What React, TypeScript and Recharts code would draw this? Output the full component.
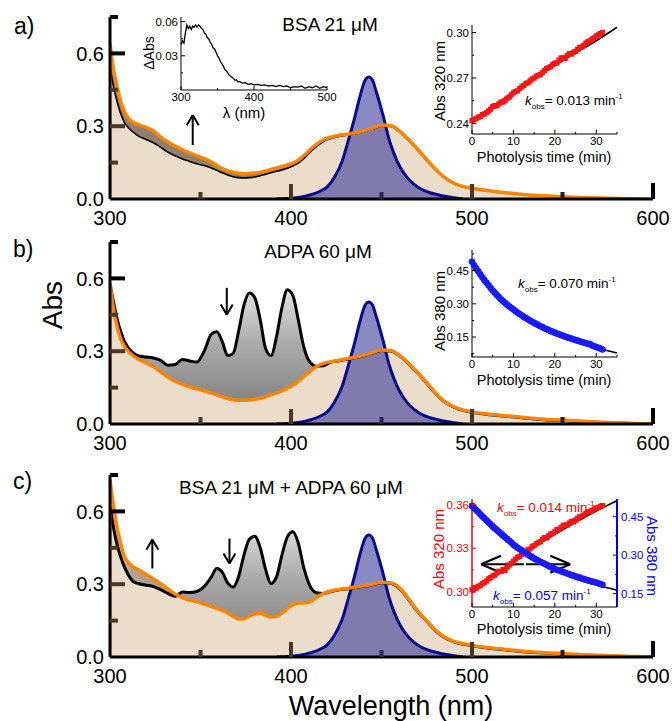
import React from 'react';
import { ComposedChart, Area, Line, Scatter, XAxis, YAxis, ReferenceLine } from 'recharts';

const FONT = '"Liberation Sans", Arial, Helvetica, sans-serif';

// ---------------- main spectra ----------------
const wavelengths = [300,302,304,306,308,310,313,316,320,324,328,332,336,340,344,348,352,356,359,362,365,368,371,374,377,380,383,386,389,392,395,398,401,404,407,410,414,418,422,426,430,435,440,445,450,455,460,465,470,475,480,485,490,495,500,510,520,530,540,550,560,570,580,590,600];

const bsaFinal = [0.64,0.53,0.46,0.40,0.36,0.335,0.315,0.305,0.295,0.28,0.255,0.235,0.218,0.203,0.19,0.178,0.167,0.152,0.138,0.125,0.116,0.11,0.106,0.104,0.105,0.107,0.11,0.116,0.122,0.128,0.134,0.14,0.148,0.16,0.178,0.2,0.225,0.245,0.255,0.262,0.266,0.272,0.28,0.292,0.305,0.303,0.28,0.245,0.205,0.162,0.122,0.088,0.065,0.052,0.044,0.033,0.025,0.018,0.013,0.009,0.006,0.004,0.002,0.001,0.0];
const bsaInitial = [0.545,0.46,0.40,0.35,0.315,0.295,0.275,0.258,0.245,0.232,0.213,0.193,0.178,0.165,0.155,0.145,0.138,0.128,0.118,0.108,0.099,0.092,0.088,0.087,0.088,0.091,0.096,0.102,0.108,0.114,0.12,0.127,0.136,0.148,0.166,0.19,0.216,0.238,0.249,0.257,0.262,0.268,0.276,0.288,0.3,0.299,0.276,0.241,0.201,0.158,0.119,0.086,0.063,0.05,0.042,0.032,0.024,0.017,0.012,0.008,0.005,0.003,0.002,0.001,0.0];

const adpaFinal = [0.58,0.47,0.40,0.35,0.32,0.30,0.28,0.266,0.252,0.237,0.215,0.192,0.176,0.163,0.153,0.145,0.137,0.127,0.12,0.112,0.105,0.10,0.098,0.098,0.099,0.102,0.106,0.112,0.12,0.128,0.136,0.147,0.16,0.175,0.195,0.213,0.237,0.25,0.257,0.262,0.268,0.275,0.283,0.294,0.305,0.303,0.283,0.25,0.212,0.17,0.127,0.092,0.071,0.058,0.05,0.04,0.033,0.026,0.02,0.016,0.012,0.008,0.005,0.002,0.0];
const adpaInitial = [0.58,0.50,0.43,0.38,0.34,0.315,0.292,0.28,0.276,0.272,0.262,0.242,0.245,0.266,0.26,0.255,0.30,0.37,0.38,0.34,0.282,0.29,0.38,0.49,0.54,0.52,0.43,0.31,0.282,0.36,0.48,0.553,0.53,0.43,0.32,0.26,0.238,0.24,0.255,0.26,0.266,0.273,0.281,0.292,0.303,0.301,0.281,0.248,0.21,0.168,0.125,0.09,0.069,0.056,0.048,0.038,0.031,0.024,0.018,0.014,0.01,0.006,0.004,0.002,0.0];

const mixFinal = [0.73,0.62,0.53,0.465,0.415,0.39,0.37,0.358,0.34,0.322,0.302,0.28,0.26,0.245,0.235,0.227,0.218,0.208,0.2,0.192,0.182,0.168,0.158,0.158,0.168,0.178,0.18,0.172,0.165,0.168,0.18,0.2,0.215,0.222,0.223,0.226,0.245,0.262,0.272,0.278,0.282,0.287,0.293,0.3,0.308,0.306,0.285,0.24,0.19,0.15,0.11,0.081,0.064,0.055,0.048,0.038,0.03,0.023,0.018,0.014,0.01,0.007,0.004,0.002,0.0];
const mixInitial = [0.62,0.53,0.46,0.41,0.37,0.34,0.31,0.302,0.296,0.29,0.278,0.262,0.25,0.268,0.266,0.27,0.29,0.33,0.365,0.35,0.305,0.288,0.33,0.42,0.485,0.498,0.45,0.36,0.303,0.33,0.42,0.495,0.516,0.47,0.37,0.3,0.265,0.262,0.27,0.276,0.28,0.285,0.291,0.298,0.306,0.304,0.282,0.237,0.187,0.148,0.108,0.079,0.062,0.053,0.046,0.036,0.028,0.021,0.016,0.012,0.009,0.006,0.003,0.001,0.0];

const emissionWl = [392,396,400,404,408,412,416,420,424,428,432,435,438,441,443,445,447,451,454,457,460,464,468,472,476,480,485,490,495];
const emissionAbs = [0,0.001,0.003,0.006,0.012,0.02,0.032,0.05,0.09,0.15,0.25,0.33,0.42,0.49,0.503,0.49,0.445,0.34,0.25,0.185,0.135,0.09,0.06,0.04,0.028,0.02,0.011,0.005,0];

const mainXTicks = [300, 350, 400, 450, 500, 550, 600];
const mainYTicks = [0, 0.15, 0.3, 0.45, 0.6, 0.75];

const arrowsA = [{ wl: 345.7, from: 0.222, to: 0.346 }];
const arrowsB = [{ wl: 364.5, from: 0.561, to: 0.45 }];
const arrowsC = [{ wl: 323.4, from: 0.365, to: 0.484 }, { wl: 366, from: 0.488, to: 0.385 }];

// ---------------- inset data ----------------
const diffWl = [300,302,304,306,308,310,312,314,316,318,320,322,324,326,328,330,332,334,336,338,340,342,344,346,348,350,352,354,356,358,360,362,364,366,368,370,372,374,376,378,380,384,388,392,396,400,405,410,415,420,425,430,435,440,445,450,455,460,465,470,475,480,485,490,495,500];
const diffAbs = [0.040,0.043,0.041,0.05,0.057,0.054,0.056,0.053,0.056,0.055,0.057,0.055,0.057,0.056,0.054,0.053,0.05,0.049,0.046,0.045,0.042,0.04,0.037,0.036,0.033,0.030,0.028,0.025,0.023,0.021,0.018,0.017,0.015,0.013,0.012,0.011,0.010,0.0085,0.009,0.007,0.0075,0.006,0.0065,0.005,0.0055,0.0045,0.005,0.004,0.0045,0.0035,0.004,0.003,0.004,0.003,0.0035,0.002,0.003,0.0025,0.0035,0.0015,0.003,0.002,0.0035,0.0015,0.003,0.002];

const times = [0,0.5,1,1.5,2,2.5,3,3.5,4,4.5,5,5.5,6,6.5,7,7.5,8,8.5,9,9.5,10,10.5,11,11.5,12,12.5,13,13.5,14,14.5,15,15.5,16,16.5,17,17.5,18,18.5,19,19.5,20,20.5,21,21.5,22,22.5,23,23.5,24,24.5,25,25.5,26,26.5,27,27.5,28,28.5,29,29.5,30,30.5,31,31.5];

const bsaAbs320 = [0.2418,0.2425,0.2432,0.2441,0.2445,0.2458,0.2462,0.2470,0.2482,0.2494,0.2512,0.2518,0.2516,0.2529,0.2540,0.2542,0.2551,0.2566,0.2574,0.2589,0.2602,0.2611,0.2615,0.2630,0.2641,0.2650,0.2664,0.2668,0.2681,0.2693,0.2700,0.2712,0.2718,0.2723,0.2735,0.2750,0.2762,0.2768,0.2775,0.2789,0.2797,0.2800,0.2818,0.2832,0.2835,0.2829,0.2848,0.2861,0.2858,0.2870,0.2876,0.2890,0.2902,0.2905,0.2916,0.2931,0.2940,0.2946,0.2958,0.2965,0.2978,0.2985,0.2994,0.3001];
const adpaAbs380 = [0.490,0.474,0.460,0.447,0.433,0.420,0.407,0.395,0.384,0.371,0.360,0.350,0.340,0.331,0.321,0.312,0.304,0.296,0.288,0.281,0.274,0.267,0.260,0.254,0.248,0.241,0.236,0.230,0.224,0.219,0.214,0.209,0.204,0.199,0.195,0.190,0.186,0.182,0.177,0.174,0.170,0.166,0.163,0.159,0.156,0.152,0.149,0.146,0.143,0.140,0.137,0.134,0.131,0.128,0.125,0.122,0.120,0.118,0.112,0.108,0.105,0.102,0.098,0.094];
const mixAbs320 = [0.3015,0.3030,0.3025,0.3038,0.3045,0.3058,0.3066,0.3075,0.3090,0.3098,0.3110,0.3115,0.3130,0.3142,0.3140,0.3155,0.3148,0.3170,0.3185,0.3196,0.3210,0.3225,0.3238,0.3244,0.3258,0.3262,0.3278,0.3290,0.3295,0.3310,0.3318,0.3330,0.3338,0.3345,0.3360,0.3372,0.3370,0.3385,0.3398,0.3402,0.3415,0.3428,0.3430,0.3442,0.3455,0.3460,0.3458,0.3472,0.3485,0.3480,0.3492,0.3505,0.3515,0.3520,0.3528,0.3540,0.3548,0.3552,0.3560,0.3568,0.3575,0.3580,0.3588,0.3592];
const mixAbs380 = [0.492,0.484,0.476,0.468,0.459,0.451,0.444,0.436,0.428,0.420,0.412,0.405,0.398,0.391,0.384,0.377,0.370,0.363,0.356,0.349,0.340,0.335,0.329,0.324,0.318,0.313,0.307,0.302,0.297,0.292,0.287,0.283,0.278,0.274,0.270,0.266,0.262,0.258,0.254,0.250,0.246,0.243,0.240,0.237,0.234,0.231,0.228,0.225,0.222,0.220,0.217,0.214,0.212,0.209,0.207,0.204,0.202,0.199,0.197,0.195,0.193,0.190,0.187,0.184];

const fitTimes = [0, 5, 10, 15, 20, 25, 30, 35];
const bsaFit = [0.2413, 0.2512, 0.2606, 0.2696, 0.2783, 0.2866, 0.2946, 0.3035];
const mixFit320 = [0.2993, 0.3105, 0.3210, 0.3308, 0.3395, 0.3478, 0.3555, 0.3625];
const mixFit380 = [0.485, 0.400, 0.333, 0.281, 0.240, 0.208, 0.183, 0.163];
const adpaFitTimes = [0, 2.5, 5, 7.5, 10, 12.5, 15, 17.5, 20, 22.5, 25, 27.5, 30, 32.5, 35];
const adpaFit = [0.478, 0.413, 0.357, 0.309, 0.268, 0.234, 0.205, 0.180, 0.159, 0.141, 0.126, 0.113, 0.101, 0.089, 0.078];

const insetTimeTicks = [0, 5, 10, 15, 20, 25, 30, 35];
const kinArrows = [{ y: 0.319, from: 12.5, to: 2.2 }, { y: 0.319, from: 13, to: 23.7 }];

// ---------------- helpers ----------------
type Row = { wl: number; fin?: number; init?: number; em?: number };

function buildRows(fin: number[], init: number[]): Row[] {
  const map = new Map<number, Row>();
  wavelengths.forEach((wl, i) => map.set(wl, { wl, fin: fin[i], init: init[i] }));
  emissionWl.forEach((wl, i) => {
    const r = map.get(wl) || { wl };
    r.em = emissionAbs[i];
    map.set(wl, r);
  });
  return Array.from(map.values()).sort((a, b) => a.wl - b.wl);
}

const pairs = (xs: number[], ys: number[]) => xs.map((t, i) => ({ t, v: ys[i] }));

const near = (a: number, b: number) => Math.abs(a - b) < 1e-6;

const BROWN = '#4a3726';

const MainXTick = (p: any) => {
  const v = p.payload.value;
  const len = v === 600 ? 16 : v % 100 === 0 ? 15 : 7;
  const color = v === 600 ? '#000' : v === 450 ? '#2c2458' : v === 550 ? '#1e1e1e' : BROWN;
  return (
    <g>
      {v !== 300 && <line x1={p.x} x2={p.x} y1={p.y} y2={p.y - len} stroke={color} strokeWidth={4} />}
      {v % 100 === 0 && (
        <text x={p.x} y={p.y + 26} textAnchor="middle" fontSize={20} fontFamily={FONT} fill="#000">{v}</text>
      )}
    </g>
  );
};

const MainYTick = (p: any) => {
  const v = p.payload.value;
  const major = [0, 0.3, 0.6].some((m) => near(m, v));
  const len = major ? 15 : 8;
  const color = near(v, 0.6) || near(v, 0.75) ? '#000' : BROWN;
  return (
    <g>
      {!near(v, 0) && <line x1={p.x} x2={p.x + len} y1={p.y} y2={p.y} stroke={color} strokeWidth={4} />}
      {major && (
        <text x={p.x - 6} y={p.y} dy="0.36em" textAnchor="end" fontSize={20} fontFamily={FONT} fill="#000">{v.toFixed(1)}</text>
      )}
    </g>
  );
};

function makeTick(side: 'left' | 'right' | 'bottom', labeled: number[], fmt: (v: number) => string, color: string) {
  return (p: any) => {
    const v = p.payload.value;
    const lab = labeled.some((l) => near(l, v));
    const len = lab ? 4 : 2;
    if (side === 'bottom') {
      return (
        <g>
          <line x1={p.x} x2={p.x} y1={p.y} y2={p.y - len} stroke={color} strokeWidth={1} />
          {lab && <text x={p.x} y={p.y + 11} textAnchor="middle" fontSize={11.5} fontFamily={FONT} fill={color}>{fmt(v)}</text>}
        </g>
      );
    }
    if (side === 'left') {
      return (
        <g>
          <line x1={p.x} x2={p.x + len} y1={p.y} y2={p.y} stroke={color} strokeWidth={1} />
          {lab && <text x={p.x - 3} y={p.y} dy="0.36em" textAnchor="end" fontSize={11.5} fontFamily={FONT} fill={color}>{fmt(v)}</text>}
        </g>
      );
    }
    return (
      <g>
        <line x1={p.x} x2={p.x - len} y1={p.y} y2={p.y} stroke={color} strokeWidth={1} />
        {lab && <text x={p.x + 4} y={p.y} dy="0.36em" textAnchor="start" fontSize={11.5} fontFamily={FONT} fill={color}>{fmt(v)}</text>}
      </g>
    );
  };
}

const fmtInt = (v: number) => String(v);
const fmt2 = (v: number) => v.toFixed(2);

const redSquare = (p: any) => <rect x={p.cx - 2.6} y={p.cy - 2.6} width={5.2} height={5.2} fill="#ff1414" />;
const blueDot = (p: any) => <circle cx={p.cx} cy={p.cy} r={3.3} fill="#1a1aff" />;

function MainPanel({ top, fin, init, id, solidBand, blackWidth, arrows }: any) {
  const rows = buildRows(fin, init);
  const edge = [{ wl: 300, edge: 0 }, { wl: 300, edge: fin[0] }];
  const bandFill = solidBand ? '#7a7a7a' : `url(#${id})`;
  return (
    <div style={{ position: 'absolute', left: 0, top }}>
      <ComposedChart width={672} height={230} data={rows} margin={{ top: 17, right: 19, bottom: 1, left: 60 }}>
        <defs>
          <linearGradient id={id} x1="0" y1="60" x2="0" y2="175" gradientUnits="userSpaceOnUse">
            <stop offset="0" stopColor="#e6e6e6" />
            <stop offset="0.5" stopColor="#acacac" />
            <stop offset="1" stopColor="#858585" />
          </linearGradient>
        </defs>
        <XAxis type="number" dataKey="wl" domain={[300, 600]} ticks={mainXTicks} interval={0} height={30}
          tickSize={0} tickMargin={0} tickLine={false} tick={MainXTick} axisLine={{ stroke: '#000', strokeWidth: 3 }} allowDataOverflow />
        <YAxis type="number" domain={[0, 0.75]} ticks={mainYTicks} interval={0} width={50}
          tickSize={0} tickMargin={0} tickLine={false} tick={MainYTick} axisLine={{ stroke: '#000', strokeWidth: 3 }} allowDataOverflow />
        <Area type="monotone" dataKey={(r: Row) => (r.fin === undefined || r.init === undefined ? undefined : [r.init, r.fin])}
          fill={bandFill} fillOpacity={1} stroke="none" connectNulls isAnimationActive={false} />
        <Area type="monotone" dataKey="fin" fill="#c08a4e" fillOpacity={0.3} stroke="none" connectNulls isAnimationActive={false} />
        <Line type="monotone" dataKey="init" stroke="#000" strokeWidth={blackWidth} dot={false} connectNulls isAnimationActive={false} />
        <Line type="monotone" dataKey="fin" stroke="#ff8400" strokeWidth={3.5} dot={false} connectNulls isAnimationActive={false} />
        <Line data={edge} type="linear" dataKey="edge" stroke="#ff8400" strokeWidth={3} dot={false} isAnimationActive={false} />
        <Area type="monotone" dataKey="em" fill="#303098" fillOpacity={0.57} stroke="#0a0a8c" strokeWidth={3} connectNulls isAnimationActive={false} />
        {arrows.map((a: any, i: number) => {
          const dir = a.to > a.from ? 1 : -1;
          const back = a.to - dir * 0.042;
          return (
            <React.Fragment key={i}>
              <ReferenceLine segment={[{ x: a.wl, y: a.from }, { x: a.wl, y: a.to }]} stroke="#000" strokeWidth={2} ifOverflow="visible" />
              <ReferenceLine segment={[{ x: a.wl - 3.3, y: back }, { x: a.wl, y: a.to }]} stroke="#000" strokeWidth={2} ifOverflow="visible" />
              <ReferenceLine segment={[{ x: a.wl + 3.3, y: back }, { x: a.wl, y: a.to }]} stroke="#000" strokeWidth={2} ifOverflow="visible" />
            </React.Fragment>
          );
        })}
      </ComposedChart>
    </div>
  );
}

function DiffInset() {
  const data = pairs(diffWl, diffAbs);
  return (
    <div style={{ position: 'absolute', left: 131, top: 0 }}>
      <ComposedChart width={214} height={121} margin={{ top: 17, right: 18, bottom: 1, left: 10 }}>
        <XAxis type="number" dataKey="t" domain={[300, 500]} ticks={[300, 350, 400, 450, 500]} interval={0} height={30}
          tickSize={0} tickMargin={0} tickLine={false} tick={makeTick('bottom', [300, 400, 500], fmtInt, '#000')} axisLine={{ stroke: '#000', strokeWidth: 1 }} />
        <YAxis type="number" dataKey="v" domain={[0, 0.064]} ticks={[0.015, 0.03, 0.045, 0.06]} interval={0} width={40}
          tickSize={0} tickMargin={0} tickLine={false} tick={makeTick('left', [0.03, 0.06], fmt2, '#000')} axisLine={{ stroke: '#000', strokeWidth: 1 }} allowDataOverflow />
        <Line data={data} type="linear" dataKey="v" stroke="#000" strokeWidth={1.3} dot={false} isAnimationActive={false} />
      </ComposedChart>
    </div>
  );
}

function KineticInset({ top, height, yDomain, yTicks, yLabeled, dots, dotShape, fitT, fitV }: any) {
  return (
    <div style={{ position: 'absolute', left: 422, top }}>
      <ComposedChart width={240} height={height} margin={{ top: 25, right: 45, bottom: 1, left: 10 }}>
        <XAxis type="number" dataKey="t" domain={[0, 35]} ticks={insetTimeTicks} interval={0} height={30}
          tickSize={0} tickMargin={0} tickLine={false} tick={makeTick('bottom', [0, 10, 20, 30], fmtInt, '#000')} axisLine={{ stroke: '#000', strokeWidth: 1 }} />
        <YAxis type="number" dataKey="v" domain={yDomain} ticks={yTicks} interval={0} width={40}
          tickSize={0} tickMargin={0} tickLine={false} tick={makeTick('left', yLabeled, fmt2, '#000')} axisLine={{ stroke: '#000', strokeWidth: 1 }} allowDataOverflow />
        <Scatter data={dots} dataKey="v" shape={dotShape} isAnimationActive={false} />
        <Line data={pairs(fitT, fitV)} type="monotone" dataKey="v" stroke="#000" strokeWidth={1.6} dot={false} isAnimationActive={false} />
      </ComposedChart>
    </div>
  );
}

function MixInset() {
  return (
    <div style={{ position: 'absolute', left: 422, top: 474 }}>
      <ComposedChart width={240} height={164} margin={{ top: 25, right: 5, bottom: 1, left: 10 }}>
        <XAxis type="number" dataKey="t" domain={[0, 35]} ticks={insetTimeTicks} interval={0} height={30}
          tickSize={0} tickMargin={0} tickLine={false} tick={makeTick('bottom', [0, 10, 20, 30], fmtInt, '#000')} axisLine={{ stroke: '#000', strokeWidth: 1 }} />
        <YAxis yAxisId="l" orientation="left" type="number" dataKey="v" domain={[0.2897, 0.3637]} ticks={[0.3, 0.315, 0.33, 0.345, 0.36]} interval={0} width={40}
          tickSize={0} tickMargin={0} tickLine={false} tick={makeTick('left', [0.3, 0.33, 0.36], fmt2, '#ff0000')} axisLine={{ stroke: '#ff0000', strokeWidth: 1.5 }} allowDataOverflow />
        <YAxis yAxisId="r" orientation="right" type="number" dataKey="v" domain={[0.0975, 0.519]} ticks={[0.15, 0.225, 0.3, 0.375, 0.45]} interval={0} width={40}
          tickSize={0} tickMargin={0} tickLine={false} tick={makeTick('right', [0.15, 0.3, 0.45], fmt2, '#0000ff')} axisLine={{ stroke: '#0000ff', strokeWidth: 2 }} allowDataOverflow />
        <Scatter yAxisId="l" data={pairs(times, mixAbs320)} dataKey="v" shape={redSquare} isAnimationActive={false} />
        <Scatter yAxisId="r" data={pairs(times, mixAbs380)} dataKey="v" shape={blueDot} isAnimationActive={false} />
        <Line yAxisId="l" data={pairs(fitTimes, mixFit320)} type="monotone" dataKey="v" stroke="#000" strokeWidth={1.6} dot={false} isAnimationActive={false} />
        <Line yAxisId="r" data={pairs(fitTimes, mixFit380)} type="monotone" dataKey="v" stroke="#000" strokeWidth={1.6} dot={false} isAnimationActive={false} />
        {kinArrows.map((a, i) => {
          const dir = a.to > a.from ? 1 : -1;
          const back = a.to - dir * 4.8;
          return (
            <React.Fragment key={i}>
              <ReferenceLine yAxisId="l" segment={[{ x: a.from, y: a.y }, { x: a.to, y: a.y }]} stroke="#000" strokeWidth={2} ifOverflow="visible" />
              <ReferenceLine yAxisId="l" segment={[{ x: back, y: a.y + 0.0058 }, { x: a.to, y: a.y }]} stroke="#000" strokeWidth={2.2} ifOverflow="visible" />
              <ReferenceLine yAxisId="l" segment={[{ x: back, y: a.y - 0.0058 }, { x: a.to, y: a.y }]} stroke="#000" strokeWidth={2.2} ifOverflow="visible" />
            </React.Fragment>
          );
        })}
      </ComposedChart>
    </div>
  );
}

function Kobs({ x, y, val, color }: any) {
  return (
    <text x={x} y={y} fontFamily={FONT} fontSize={13.5} fill={color}>
      <tspan fontStyle="italic">k</tspan>
      <tspan fontSize={8} dy={4}>obs</tspan>
      <tspan dy={-4}>= {val} min</tspan>
      <tspan fontSize={8} dy={-6}>-1</tspan>
    </text>
  );
}

export default function App() {
  return (
    <div style={{ position: 'absolute', left: 0, top: 0, width: 672, height: 721, background: '#fff', overflow: 'hidden' }}>
      <MainPanel top={0} fin={bsaFinal} init={bsaInitial} id="gA" solidBand blackWidth={1.6} arrows={arrowsA} />
      <MainPanel top={225} fin={adpaFinal} init={adpaInitial} id="gB" blackWidth={3} arrows={arrowsB} />
      <MainPanel top={458} fin={mixFinal} init={mixInitial} id="gC" blackWidth={3} arrows={arrowsC} />
      <DiffInset />
      <KineticInset top={0} height={165} yDomain={[0.233, 0.305]} yTicks={[0.24, 0.255, 0.27, 0.285, 0.3]} yLabeled={[0.24, 0.27, 0.3]}
        dots={pairs(times, bsaAbs320)} dotShape={redSquare} fitT={fitTimes} fitV={bsaFit} />
      <KineticInset top={225} height={163} yDomain={[0.06, 0.543]} yTicks={[0.075, 0.15, 0.225, 0.3, 0.375, 0.45, 0.525]} yLabeled={[0.15, 0.3, 0.45]}
        dots={pairs(times, adpaAbs380)} dotShape={blueDot} fitT={adpaFitTimes} fitV={adpaFit} />
      <MixInset />
      <svg width={672} height={721} style={{ position: 'absolute', left: 0, top: 0, pointerEvents: 'none' }}>
        <g fontFamily={FONT} fill="#000">
          <text x={14} y={34} fontSize={23}>a)</text>
          <text x={13} y={257} fontSize={23}>b)</text>
          <text x={13} y={489} fontSize={23}>c)</text>
          <text x={330} y={31} fontSize={19} textAnchor="middle">BSA 21 μM</text>
          <text x={318} y={258} fontSize={19} textAnchor="middle">ADPA 60 μM</text>
          <text x={291} y={494} fontSize={19} textAnchor="middle">BSA 21 μM + ADPA 60 μM</text>
          <text transform="translate(62,305) rotate(-90)" fontSize={28} textAnchor="middle">Abs</text>
          <text x={391} y={715} fontSize={27} textAnchor="middle">Wavelength (nm)</text>
          <text transform="translate(154,53) rotate(-90)" fontSize={14} textAnchor="middle">ΔAbs</text>
          <text x={244} y={118} fontSize={15} textAnchor="middle">λ (nm)</text>
          <text transform="translate(445,81) rotate(-90)" fontSize={15} textAnchor="middle">Abs 320 nm</text>
          <text x={544} y={162} fontSize={14.5} textAnchor="middle">Photolysis time (min)</text>
          <text transform="translate(445,311) rotate(-90)" fontSize={15} textAnchor="middle">Abs 380 nm</text>
          <text x={544} y={385} fontSize={14.5} textAnchor="middle">Photolysis time (min)</text>
          <text transform="translate(444,549) rotate(-90)" fontSize={15} textAnchor="middle" fill="#ff0000">Abs 320 nm</text>
          <text transform="translate(647,556) rotate(90)" fontSize={15} textAnchor="middle" fill="#0000ff">Abs 380 nm</text>
          <text x={544} y={634} fontSize={14.5} textAnchor="middle">Photolysis time (min)</text>
        </g>
        <Kobs x={525} y={105} val="0.013" color="#000" />
        <Kobs x={518} y={288} val="0.070" color="#000" />
        <Kobs x={497} y={512} val="0.014" color="#ff0000" />
        <Kobs x={493} y={600} val="0.057" color="#0000ff" />
      </svg>
    </div>
  );
}
